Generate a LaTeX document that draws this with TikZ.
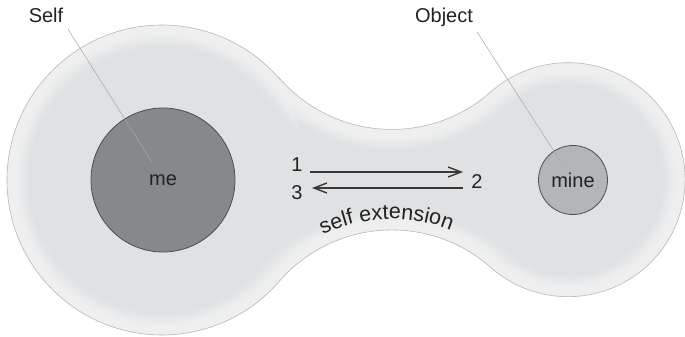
\documentclass[tikz,border=0pt]{standalone}
\usepackage{fontspec}
\setmainfont{Liberation Sans}
\usetikzlibrary{arrows.meta,decorations.text}

\definecolor{blobgray}{RGB}{223,225,227}
\definecolor{megray}{RGB}{134,137,140}
\definecolor{minegray}{RGB}{179,182,185}
\definecolor{inkgray}{RGB}{34,34,34}

% outline of the self region: two circles joined by a concave neck
\newcommand{\blob}{(L) ++(40.87:155pt) arc [start angle=40.87, end angle=319.13, radius=155pt] arc [start angle=139.13, end angle=48.51, radius=149pt] arc [start angle=-131.49, end angle=131.49, radius=117pt] arc [start angle=-48.51, end angle=-139.13, radius=149pt] -- cycle}

\begin{document}
\begin{tikzpicture}[x=1pt, y=1pt, font=\fontsize{20}{24}\selectfont, text=inkgray,
  leader/.style={draw=gray!70, line width=0.5pt},
  flow/.style={draw=inkgray!90, line width=1.4pt, -{Straight Barb[length=13pt,width=10pt]}},
  disc/.style={circle, draw=inkgray!80, line width=0.8pt, inner sep=0pt}]
\useasboundingbox (0,0) rectangle (685,-337);
% \draw (0,0) grid (685,-337);
\coordinate (L) at (162,-180);
\coordinate (D) at (392,-379);
\fill[blobgray] \blob;
\begin{scope}
\clip \blob;
\foreach \w in {2,4,...,44} \draw[white, opacity=0.06, line width=\w pt] \blob;
\end{scope}
\draw[gray!55, line width=0.6pt] \blob;

\node[disc, fill=megray, minimum size=144pt] (me) at (163,-180) {me};
\node[disc, fill=minegray, minimum size=69pt] (mine) at (573,-180) {mine};

\node[anchor=base, inner sep=2pt] (self) at (46,-22.7) {Self};
\node[anchor=base, inner sep=2pt] (object) at (444,-22.7) {Object};
\coordinate (selftip) at (152,-162);
\coordinate (objecttip) at (561,-162);
\draw[leader, shorten <=5pt] (self.south east) -- (selftip);
\draw[leader, shorten <=3pt] (object.south east) -- (objecttip);

\node (n1) at (297,-165) {1};
\node (n3) at (297,-193) {3};
\node (n2) at (477,-182) {2};
\coordinate (outstart) at (310,-172);
\coordinate (outend) at (463,-172);
\coordinate (backstart) at (463,-188);
\coordinate (backend) at (312,-188);
\draw[flow] (outstart) -- (outend);
\draw[flow] (backstart) -- (backend);

\path[decorate, decoration={text along path, text align=center,
  text={|\fontsize{21.5}{24}\selectfont\color{inkgray}|self extension}}]
  (D) ++(122:160pt) arc [start angle=122, end angle=62, radius=160pt];
\end{tikzpicture}
\end{document}
